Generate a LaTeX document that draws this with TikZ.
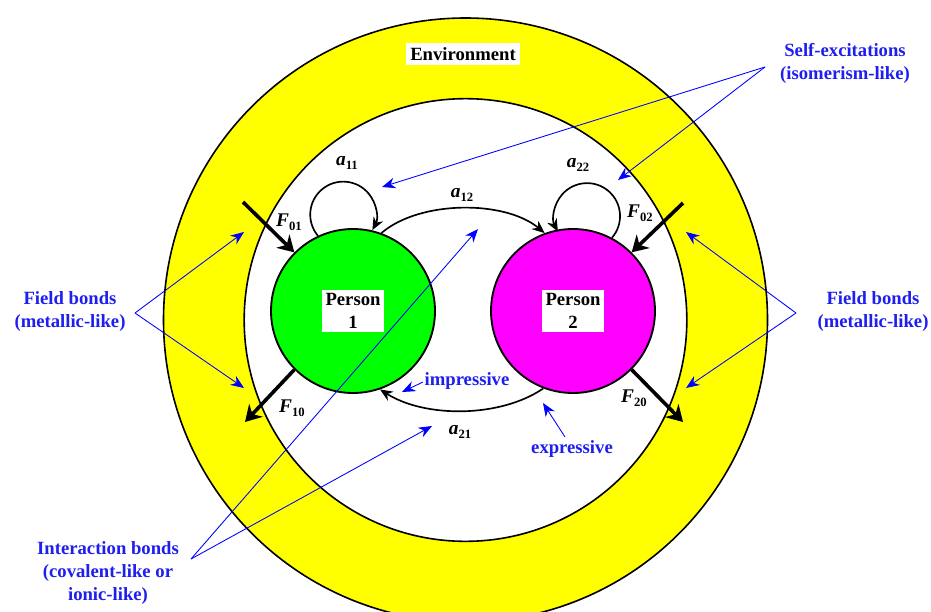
\documentclass[tikz,border=0pt]{standalone}
\usepackage{fontspec}
\setmainfont{Liberation Serif}
\usetikzlibrary{arrows.meta}
\definecolor{bl}{RGB}{30,30,240}
\definecolor{yel}{RGB}{255,255,0}
\definecolor{grn}{RGB}{0,255,0}
\definecolor{mag}{RGB}{255,0,255}
\newcommand\sbs[1]{\raisebox{-0.4ex}{\fontsize{9.5}{10}\selectfont\upshape #1}}
\begin{document}
\begin{tikzpicture}[x=0.75pt,y=-0.75pt,
  person/.style={circle, draw, line width=1.4pt, minimum size=123pt, inner sep=0pt},
  lbl/.style={fill=white, font=\fontsize{14}{17}\selectfont\bfseries, align=center, inner sep=3pt},
  coef/.style={font=\fontsize{14.5}{16}\selectfont\bfseries\itshape, inner sep=1pt},
  loopar/.style={line width=1.25pt, -{Stealth[length=9.5pt,width=8pt]}},
  force/.style={line width=2.7pt, -{Stealth[length=12pt,width=14pt]}},
  bluear/.style={draw=blue, line width=0.65pt, -{Stealth[length=10pt,width=8pt]}},
  bluetxt/.style={text=bl, font=\fontsize{14}{17.25}\selectfont\bfseries, align=center}
]
\useasboundingbox (0,0) rectangle (931,611);
\clip (0,0) rectangle (931,611);
\fill[white] (0,0) rectangle (931,611);

% environment rings
\filldraw[fill=yel, draw=black, line width=1.2pt] (465.5,320) circle [radius=226.5pt];
\filldraw[fill=white, draw=black, line width=1.2pt] (465.5,320) circle [radius=166pt];
\node[lbl, inner sep=3.5pt] (env) at (463,54) {Environment};

% persons
\node[person, fill=grn] (p1) at (353,311) {};
\node[person, fill=mag] (p2) at (573,311) {};
\node[lbl] (p1l) at (p1) {Person\\1};
\node[lbl] (p2l) at (p2) {Person\\2};

% self loops
\draw[loopar] (p1.115) arc[start angle=140, end angle=388, radius=33];
\draw[loopar] (p2.62) arc[start angle=41, end angle=-208, radius=33];

% interaction arcs
\draw[loopar] (p1.70) .. controls (420,200) and (505,200) .. (p2.110);
\draw[loopar] (p2.249) .. controls (500,418) and (425,418) .. (p1.289);

% field forces
\coordinate (f01) at (243,202);
\coordinate (f02) at (683,203);
\coordinate (f10) at (245,422);
\coordinate (f20) at (683,422);
\draw[force] (f01) -- (p1.135);
\draw[force] (f02) -- (p2.45);
\draw[force] (p1.225) -- (f10);
\draw[force] (p2.315) -- (f20);

% coefficient labels
\node[coef] (la11) at (347,163) {a\sbs{11}};
\node[coef] (la12) at (462,195) {a\sbs{12}};
\node[coef] (la22) at (578,165) {a\sbs{22}};
\node[coef] (la21) at (460,432) {a\sbs{21}};
\node[coef] (lf01) at (289,222) {F\sbs{01}};
\node[coef] (lf02) at (640,213) {F\sbs{02}};
\node[coef] (lf10) at (292,408) {F\sbs{10}};
\node[coef] (lf20) at (634,398) {F\sbs{20}};

% blue annotations
\node[bluetxt] (self) at (845,63) {Self-excitations\\(isomerism-like)};
\node[bluetxt] (fl) at (70,312) {Field bonds\\(metallic-like)};
\node[bluetxt] (fr) at (873,312) {Field bonds\\(metallic-like)};
\node[bluetxt] (inter) at (108,573) {Interaction bonds\\(covalent-like or\\ionic-like)};
\node[bluetxt] (imp) at (467,381) {impressive};
\node[bluetxt] (exp) at (572,449) {expressive};

\coordinate (sA) at (765,67);
\coordinate (sT1) at (382,187);
\coordinate (sT2) at (618,180);
\coordinate (flA) at (135,313);
\coordinate (flT1) at (244,232);
\coordinate (flT2) at (244,388);
\coordinate (frA) at (796,313);
\coordinate (frT1) at (686,232);
\coordinate (frT2) at (686,388);
\coordinate (iA) at (191,559);
\coordinate (iT1) at (478,229);
\coordinate (iT2) at (432,426);
\coordinate (impS) at (423,382);
\coordinate (impT) at (402,392);
\coordinate (expS) at (565,437);
\coordinate (expT) at (543,403);

\draw[bluear] (sA) -- (sT1);
\draw[bluear] (sA) -- (sT2);
\draw[bluear] (flA) -- (flT1);
\draw[bluear] (flA) -- (flT2);
\draw[bluear] (frA) -- (frT1);
\draw[bluear] (frA) -- (frT2);
\draw[bluear] (iA) -- (iT1);
\draw[bluear] (iA) -- (iT2);
\draw[bluear] (impS) -- (impT);
\draw[bluear] (expS) -- (expT);
\end{tikzpicture}
\end{document}
